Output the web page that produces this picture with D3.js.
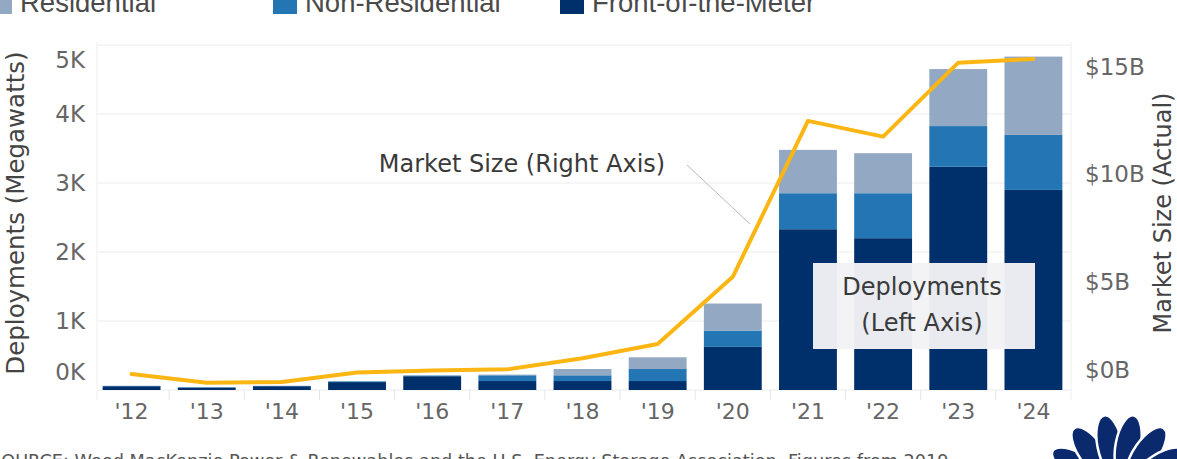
<!DOCTYPE html>
<html>
<head>
<meta charset="utf-8">
<script src="https://cdn.jsdelivr.net/npm/d3@7/dist/d3.min.js"></script>
<style>
html,body{margin:0;padding:0;background:#fff;overflow:hidden;}
svg{display:block;}
</style>
</head>
<body>
<svg id="chart" width="1177" height="459"></svg>
<script>
// ---- data ----
const years = ["'12","'13","'14","'15","'16","'17","'18","'19","'20","'21","'22","'23","'24"];
const frontOfMeter   = [55, 35, 55, 115, 200, 130, 130, 130, 625, 2330, 2200, 3235, 2900];
const nonResidential = [5, 5, 5, 10, 10, 83, 83, 174, 237, 522, 652, 590, 797];
const residential    = [0, 0, 0, 0, 0, 10, 91, 170, 391, 628, 580, 826, 1135];
const marketSizeB    = [0.74, 0.34, 0.37, 0.81, 0.9, 0.96, 1.47, 2.13, 5.25, 12.48, 11.75, 15.18, 15.35];
const leftTicks  = [0, 1000, 2000, 3000, 4000, 5000];
const leftTickLabels = ["0K","1K","2K","3K","4K","5K"];
const rightTicks = [0, 5, 10, 15];
const rightTickLabels = ["$0B","$5B","$10B","$15B"];
const seriesNames = ["Residential","Non-Residential","Front-of-the-Meter"];
const colors = {"Front-of-the-Meter":"#00306b","Non-Residential":"#2375b3","Residential":"#93a8c2"};
const sourceText = "SOURCE: Wood MacKenzie Power & Renewables and the U.S. Energy Storage Association. Figures from 2019";

const svg = d3.select("#chart");
const FONT = "'DejaVu Sans', Verdana, sans-serif";
const plot = {left: 94, right: 1071, top: 45, bottom: 390};

const x = d3.scaleBand().domain(years).range([plot.left, plot.right]).paddingInner(0.23).paddingOuter(0.115);
const yL = d3.scaleLinear().domain([0, 5000]).range([plot.bottom, plot.top]);
const yR = d3.scaleLinear().domain([0, 16]).range([plot.bottom, plot.top]);

// gridlines
svg.append("g").selectAll("line").data(leftTicks).join("line")
  .attr("x1", plot.left + 3).attr("x2", plot.right)
  .attr("y1", d => yL(d)).attr("y2", d => yL(d))
  .attr("stroke", "#ececec").attr("stroke-width", 1);
svg.append("line").attr("x1", plot.left + 3).attr("x2", plot.left + 3)
  .attr("y1", plot.top - 3).attr("y2", plot.bottom + 10).attr("stroke", "#efefef");
svg.append("line").attr("x1", plot.right).attr("x2", plot.right)
  .attr("y1", plot.top - 3).attr("y2", plot.bottom + 10).attr("stroke", "#efefef");
// small x ticks at band boundaries
const step = x.step();
svg.append("g").selectAll("line").data(years.slice(1)).join("line")
  .attr("x1", d => x(d) - step * x.paddingInner() / 2).attr("x2", d => x(d) - step * x.paddingInner() / 2)
  .attr("y1", plot.bottom).attr("y2", plot.bottom + 10)
  .attr("stroke", "#e6e6e6");

// stacked bars
const table = years.map((yr, i) => ({year: yr,
  "Front-of-the-Meter": frontOfMeter[i], "Non-Residential": nonResidential[i], "Residential": residential[i]}));
const stack = d3.stack().keys(["Front-of-the-Meter","Non-Residential","Residential"])(table);
svg.append("g").selectAll("g").data(stack).join("g")
  .attr("fill", d => colors[d.key])
  .selectAll("rect").data(d => d).join("rect")
  .attr("x", d => x(d.data.year)).attr("width", x.bandwidth())
  .attr("y", d => yL(d[1])).attr("height", d => Math.max(0, yL(d[0]) - yL(d[1])));

// market size line
const line = d3.line().x((d, i) => x(years[i]) + x.bandwidth() / 2).y(d => yR(d));
svg.append("path").datum(marketSizeB).attr("d", line)
  .attr("fill", "none").attr("stroke", "#fbb614").attr("stroke-width", 4)
  .attr("stroke-linejoin", "round").attr("stroke-linecap", "round");

// annotation: market size
svg.append("line").attr("x1", 687).attr("y1", 165).attr("x2", 750).attr("y2", 224)
  .attr("stroke", "#b9b9b9").attr("stroke-width", 1);
svg.append("text").attr("x", 522).attr("y", 172).attr("text-anchor", "middle")
  .attr("font-family", FONT).attr("font-size", 24).attr("fill", "#3a3a3a")
  .text("Market Size (Right Axis)");

// annotation: deployments box
svg.append("rect").attr("x", 813).attr("y", 263).attr("width", 222).attr("height", 86)
  .attr("fill", "#f3f3f6").attr("fill-opacity", 0.96);
svg.append("text").attr("x", 922).attr("y", 295).attr("text-anchor", "middle")
  .attr("font-family", FONT).attr("font-size", 24).attr("fill", "#3a3a3a").text("Deployments");
svg.append("text").attr("x", 922).attr("y", 331).attr("text-anchor", "middle")
  .attr("font-family", FONT).attr("font-size", 24).attr("fill", "#3a3a3a").text("(Left Axis)");

// left axis labels
svg.append("g").selectAll("text").data(leftTicks).join("text")
  .attr("x", 85).attr("y", d => Math.min(372, Math.max(60, yL(d))))
  .attr("dy", "0.35em").attr("text-anchor", "end")
  .attr("font-family", FONT).attr("font-size", 23).attr("fill", "#666")
  .text((d, i) => leftTickLabels[i]);
// right axis labels
svg.append("g").selectAll("text").data(rightTicks).join("text")
  .attr("x", 1085).attr("y", d => Math.min(370, Math.max(62, yR(d))))
  .attr("dy", "0.35em").attr("text-anchor", "start")
  .attr("font-family", FONT).attr("font-size", 23).attr("fill", "#666")
  .text((d, i) => rightTickLabels[i]);
// x labels
svg.append("g").selectAll("text").data(years).join("text")
  .attr("x", d => x(d) + x.bandwidth() / 2).attr("y", 419)
  .attr("text-anchor", "middle")
  .attr("font-family", FONT).attr("font-size", 22).attr("fill", "#666")
  .text(d => d);

// axis titles
svg.append("text").attr("transform", "translate(15,213) rotate(-90)")
  .attr("text-anchor", "middle").attr("dy", "0.35em")
  .attr("font-family", FONT).attr("font-size", 24.5).attr("fill", "#444")
  .text("Deployments (Megawatts)");
svg.append("text").attr("transform", "translate(1163,213) rotate(-90)")
  .attr("text-anchor", "middle").attr("dy", "0.35em")
  .attr("font-family", FONT).attr("font-size", 24).attr("fill", "#444")
  .text("Market Size (Actual)");

// legend (cut at top)
const legendX = [-12, 273, 560];
const lg = svg.append("g").selectAll("g").data(seriesNames).join("g")
  .attr("transform", (d, i) => `translate(${legendX[i]},0)`);
lg.append("rect").attr("x", 0).attr("y", -12).attr("width", 24).attr("height", 26)
  .attr("fill", d => colors[d]);
lg.append("text").attr("x", 32).attr("y", 12)
  .attr("font-family", "'Liberation Sans', Arial, sans-serif").attr("font-size", 27.5).attr("fill", "#4a4a4a")
  .text(d => d);

// source
svg.append("text").attr("x", -10).attr("y", 467)
  .attr("font-family", FONT).attr("font-size", 17.7).attr("fill", "#555")
  .text(sourceText);

// peacock logo (decoration)
const logo = svg.append("g").attr("transform", "translate(1119,492)");
const feathers = [-58, -35, -11, 11, 35, 58];
logo.selectAll("ellipse").data(feathers).join("ellipse")
  .attr("cx", 0).attr("cy", -48).attr("rx", 12.5).attr("ry", 30)
  .attr("transform", d => `rotate(${d})`)
  .attr("fill", "#0b2a6e").attr("stroke", "#fff").attr("stroke-width", 2.5);
</script>
</body>
</html>
